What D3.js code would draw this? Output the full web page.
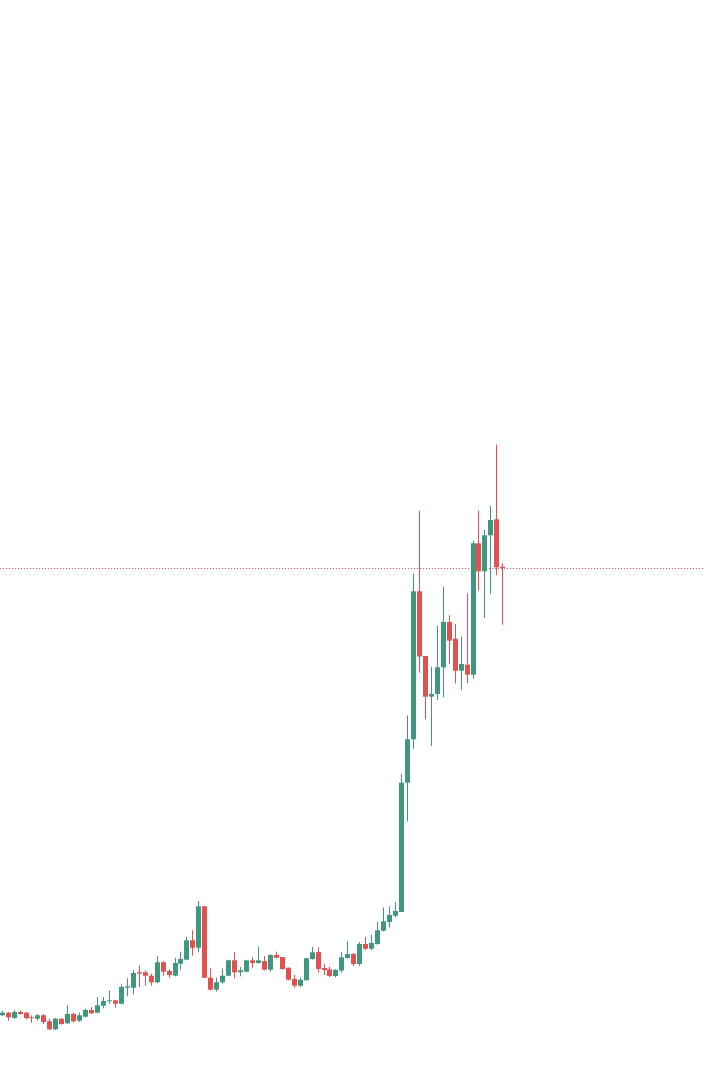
<!DOCTYPE html>
<html>
<head>
<meta charset="utf-8">
<script src="https://cdn.jsdelivr.net/npm/d3@7/dist/d3.min.js"></script>
<style>
html,body{margin:0;padding:0;background:#fff;}
svg{display:block;}
</style>
</head>
<body>
<svg id="chart" width="704" height="1089"></svg>
<script>
// Candle data (open, high, low, close) per bar index
const opens  = [247,273,220,280,273,227,213,247,187,107,213,167,260,193,233,300,273,343,390,397,363,523,523,677,677,643,577,777,690,643,763,803,997,923,1337,623,503,577,643,797,677,683,797,770,790,703,850,830,723,610,543,597,810,880,720,707,640,695,820,860,760,960,913,960,1093,1180,1243,1280,2573,3007,4487,3840,3433,3460,3727,4180,4013,3693,3753,3653,4967,4687,5047,5207,4733];
const highs  = [293,280,300,293,280,247,260,260,213,220,220,347,273,273,313,327,427,430,497,403,557,617,697,743,697,663,837,790,710,823,883,1030,1097,1390,1340,717,623,717,803,877,730,803,830,937,837,857,883,830,723,650,623,823,930,927,760,730,710,880,987,870,980,1030,1050,1180,1327,1337,1380,2660,3247,4667,5293,3840,3733,4140,4533,4247,4160,4033,4467,4993,5293,5100,5340,5953,4767];
const lows   = [240,193,213,253,207,173,193,160,100,100,153,160,173,180,227,260,267,317,363,323,357,437,457,530,543,543,570,643,623,637,703,797,843,877,620,497,483,563,640,617,637,677,723,763,697,683,817,703,597,523,530,597,803,675,650,630,627,675,815,740,740,900,897,953,1085,1125,1227,1280,2187,2913,3673,3207,2940,3400,3427,3760,3567,3500,3567,3613,4493,4220,4460,4647,4153];
const closes = [273,227,280,260,220,220,247,180,107,213,160,260,187,247,300,267,347,390,397,363,530,537,670,663,643,577,777,683,650,770,810,997,923,1337,623,503,577,643,797,677,697,797,770,797,703,850,823,710,603,543,603,817,877,710,700,640,700,827,860,760,960,913,970,1097,1187,1250,1290,2573,3007,4487,3835,3433,3460,3727,4180,3993,3693,3760,3653,4967,4687,5047,5200,4727,4720];

const upColor = "#3f977f", downColor = "#e05150";
const data = opens.map((o,i)=>({i, o, h:highs[i], l:lows[i], c:closes[i]}));

const svg = d3.select("#chart");
const x = d3.scaleLinear().domain([0, data.length-1]).range([1.7, 502.3]);
const y = d3.scaleLinear().domain([0, 6000]).range([1040, 440]);
const bodyW = 5;

// last price dotted line
const last = data[data.length-1];
svg.append("line")
  .attr("x1", 0).attr("x2", 704)
  .attr("y1", Math.round(y(last.c))+0.5).attr("y2", Math.round(y(last.c))+0.5)
  .attr("stroke", downColor).attr("stroke-width", 1)
  .attr("stroke-dasharray", "1 2");

const g = svg.append("g");
const candle = g.selectAll("g.c").data(data).join("g").attr("class","c");
candle.append("line")
  .attr("x1", d=>Math.round(x(d.i))+0.5).attr("x2", d=>Math.round(x(d.i))+0.5)
  .attr("y1", d=>y(d.h)).attr("y2", d=>y(d.l))
  .attr("stroke", d=>d.c>=d.o?upColor:downColor).attr("stroke-width",1);
candle.append("rect")
  .attr("x", d=>Math.round(x(d.i))+0.5-bodyW/2)
  .attr("width", bodyW)
  .attr("y", d=>y(Math.max(d.o,d.c)))
  .attr("height", d=>Math.max(1, Math.abs(y(d.o)-y(d.c))))
  .attr("fill", d=>d.c>=d.o?upColor:downColor);
</script>
</body>
</html>
